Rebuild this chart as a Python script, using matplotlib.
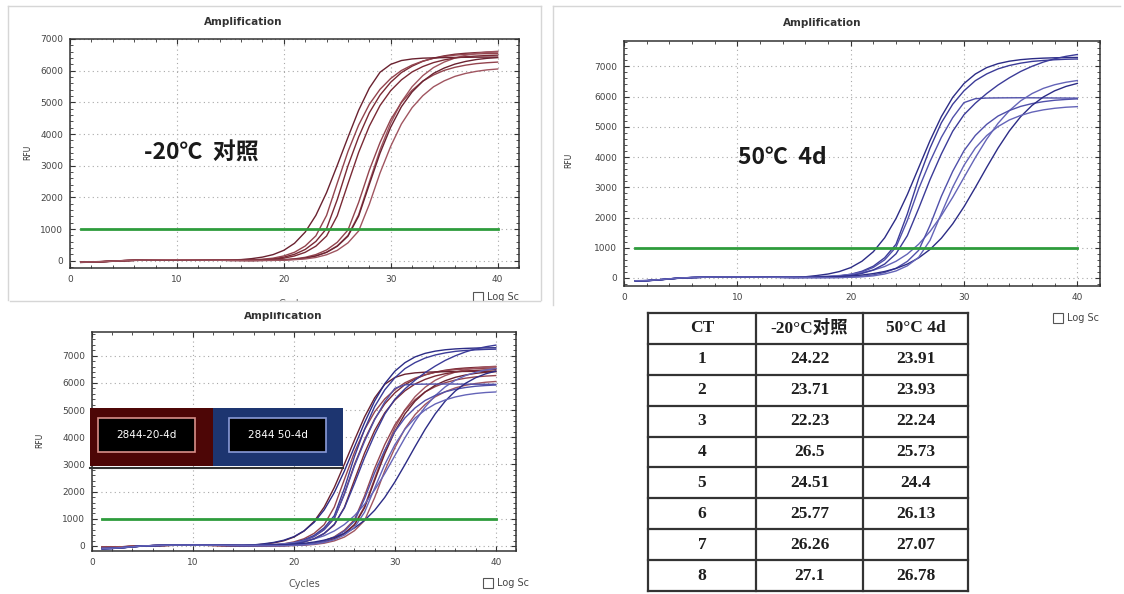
import numpy as np
import matplotlib
matplotlib.use("Agg")
import matplotlib.pyplot as plt
from matplotlib.patches import Rectangle
from matplotlib.lines import Line2D
from matplotlib.ticker import MultipleLocator

# ---- amplification data (RFU per cycle) ----
cycles = np.arange(1, 41)

cold_w1 = [-50, -42, -30, -14, 2, 12, 20, 26, 30, 28, 26, 22, 18, 14, 10, 15, 22, 36, 61, 112,
           203, 355, 609, 1015, 1929, 2995, 3909, 4671, 5229, 5635, 5940, 6143, 6295, 6397, 6468, 6519, 6549, 6570, 6585, 6593]
cold_w2 = [-40, -35, -25, -10, 5, 15, 22, 28, 30, 32, 28, 24, 20, 16, 12, 20, 29, 46, 81, 151,
           267, 464, 786, 1431, 2449, 3446, 4283, 4938, 5411, 5754, 6006, 6177, 6303, 6389, 6449, 6490, 6512, 6528, 6540, 6545]
cold_w3 = [-55, -45, -32, -18, -2, 10, 18, 24, 28, 30, 27, 24, 20, 18, 25, 35, 66, 114, 193, 328,
           550, 903, 1432, 2152, 3012, 3896, 4750, 5450, 5950, 6200, 6320, 6370, 6395, 6405, 6412, 6418, 6422, 6426, 6428, 6430]
cold_w4 = [-48, -40, -28, -12, 4, 14, 22, 27, 30, 30, 27, 23, 19, 15, 11, 8, 5, 11, 14, 28,
           47, 82, 153, 271, 471, 798, 1453, 2486, 3499, 4348, 5013, 5494, 5842, 6098, 6272, 6399, 6486, 6548, 6589, 6611]
cold_w5 = [-52, -44, -33, -16, 0, 11, 19, 25, 29, 29, 26, 22, 18, 14, 10, 13, 16, 27, 46, 80,
           150, 265, 460, 780, 1420, 2430, 3420, 4250, 4900, 5370, 5710, 5960, 6130, 6255, 6340, 6400, 6440, 6462, 6478, 6490]
cold_w6 = [-45, -38, -27, -12, 3, 13, 21, 27, 31, 31, 28, 24, 20, 16, 12, 8, 9, 12, 19, 34,
           58, 107, 194, 339, 582, 969, 1842, 2859, 3731, 4458, 4991, 5379, 5670, 5864, 6009, 6106, 6174, 6222, 6251, 6271]
cold_w7 = [-50, -43, -31, -15, 1, 12, 20, 26, 29, 30, 27, 23, 19, 15, 11, 8, 5, 11, 14, 27,
           46, 79, 149, 263, 456, 774, 1409, 2411, 3394, 4217, 4862, 5329, 5666, 5914, 6083, 6207, 6291, 6351, 6390, 6412]
cold_w8 = [-46, -39, -29, -13, 2, 12, 21, 26, 30, 29, 26, 22, 18, 14, 10, 7, 4, 7, 9, 19,
           33, 56, 103, 188, 328, 563, 939, 1783, 2769, 3613, 4317, 4833, 5209, 5490, 5678, 5819, 5913, 5978, 6025, 6053]

hot_w1 = [-95, -88, -62, -28, 2, 16, 24, 30, 33, 32, 30, 27, 24, 20, 16, 23, 30, 43, 67, 123,
          223, 390, 669, 1115, 2119, 3290, 4294, 5131, 5744, 6190, 6525, 6748, 6915, 7027, 7105, 7161, 7194, 7217, 7233, 7242]
hot_w2 = [-100, -90, -65, -32, -2, 14, 23, 29, 32, 33, 31, 28, 25, 21, 17, 23, 28, 39, 60, 110,
          200, 350, 600, 1020, 1900, 2950, 3850, 4650, 5300, 5800, 5930, 5950, 5955, 5958, 5960, 5958, 5955, 5952, 5950, 5948]
hot_w3 = [-105, -92, -68, -35, -4, 12, 22, 28, 31, 32, 30, 28, 26, 24, 28, 40, 80, 131, 212, 343,
          555, 869, 1329, 1964, 2759, 3650, 4541, 5336, 5971, 6431, 6745, 6957, 7088, 7169, 7220, 7251, 7270, 7282, 7289, 7293]
hot_w4 = [-92, -86, -60, -29, 1, 15, 24, 29, 32, 32, 30, 28, 27, 28, 30, 33, 47, 60, 80, 120,
          177, 259, 379, 552, 791, 1117, 1536, 2062, 2667, 3325, 3981, 4589, 5114, 5533, 5859, 6098, 6271, 6391, 6473, 6530]
hot_w5 = [-98, -90, -63, -31, 0, 14, 23, 29, 32, 33, 31, 27, 23, 19, 15, 20, 22, 31, 46, 80,
          150, 265, 460, 800, 1400, 2300, 3250, 4100, 4850, 5400, 5780, 6100, 6380, 6620, 6830, 7000, 7140, 7250, 7330, 7390]
hot_w6 = [-94, -87, -61, -30, 1, 15, 24, 30, 32, 32, 30, 27, 24, 20, 16, 12, 13, 13, 18, 32,
          55, 101, 183, 320, 549, 915, 1739, 2700, 3524, 4211, 4714, 5080, 5355, 5538, 5675, 5767, 5831, 5877, 5904, 5923]
hot_w7 = [-96, -88, -62, -30, 0, 14, 23, 29, 31, 32, 30, 27, 24, 22, 20, 20, 28, 34, 45, 66,
          98, 146, 215, 315, 460, 664, 944, 1315, 1788, 2356, 2994, 3656, 4294, 4862, 5335, 5706, 5986, 6190, 6335, 6435]
hot_w8 = [-90, -84, -59, -28, 2, 16, 25, 30, 33, 33, 31, 28, 24, 20, 16, 12, 8, 11, 12, 24,
          40, 70, 132, 232, 403, 684, 1245, 2131, 2999, 3727, 4297, 4709, 5007, 5226, 5375, 5485, 5560, 5612, 5647, 5667]

threshold_rfu = 1000
threshold_from, threshold_to = 1, 40

# CT table
ct_wells = ["1", "2", "3", "4", "5", "6", "7", "8"]
ct_cold = [24.22, 23.71, 22.23, 26.5, 24.51, 25.77, 26.26, 27.1]
ct_hot = [23.91, 23.93, 22.24, 25.73, 24.4, 26.13, 27.07, 26.78]
table_head = ["CT", "-20°C对照", "50°C 4d"]

label_cold = "-20℃  对照"
label_hot = "50℃  4d"
legend_cold = "2844-20-4d"
legend_hot = "2844 50-4d"

cold_wells = [cold_w1, cold_w2, cold_w3, cold_w4, cold_w5, cold_w6, cold_w7, cold_w8]
hot_wells = [hot_w1, hot_w2, hot_w3, hot_w4, hot_w5, hot_w6, hot_w7, hot_w8]

red_cols = ["#7a2a35", "#93444e", "#6a2230", "#a05560"]
blue_cols = ["#3b3b98", "#5050aa", "#2c2c86", "#6464b8"]
green = "#2e9c3c"

W, H = 1124, 594
fig = plt.figure(figsize=(W / 100, H / 100), dpi=100)
fig.patch.set_facecolor("white")
cjk = ["Noto Sans CJK SC", "DejaVu Sans"]


def box(x0, y0, x1, y1):
	return [x0 / W, 1 - y1 / H, (x1 - x0) / W, (y1 - y0) / H]


def fx(x):
	return x / W


def fy(y):
	return 1 - y / H


def amp_axes(x0, y0, x1, y1, ylim):
	ax = fig.add_axes(box(x0, y0, x1, y1))
	ax.set_xlim(0, 42)
	ax.set_ylim(*ylim)
	ax.xaxis.set_major_locator(MultipleLocator(10))
	ax.xaxis.set_minor_locator(MultipleLocator(2))
	ax.yaxis.set_major_locator(MultipleLocator(1000))
	ax.yaxis.set_minor_locator(MultipleLocator(200))
	ax.tick_params(which="both", direction="in", top=True, right=True,
				   labelsize=6.5, labelcolor="#444", color="#333")
	ax.tick_params(which="major", length=3.5, width=0.8, pad=5)
	ax.tick_params(which="minor", length=2, width=0.6)
	ax.grid(True, which="major", color="#a8a8a8", linestyle=(0, (1, 3)), linewidth=0.8)
	for s in ax.spines.values():
		s.set_color("#333")
		s.set_linewidth(1.1)
	return ax


def draw_wells(ax, wells, cols):
	for i, w in enumerate(wells):
		ax.plot(cycles, w, color=cols[i % len(cols)], lw=1.0, zorder=2)


def draw_threshold(ax):
	ax.plot([threshold_from, threshold_to], [threshold_rfu, threshold_rfu],
			color=green, lw=2, zorder=3)


def fig_text(x, y, s, **kw):
	fig.text(fx(x), fy(y), s, ha=kw.pop("ha", "center"), va=kw.pop("va", "center"), **kw)


def checkbox(x, y):
	fig.add_artist(Rectangle((fx(x), fy(y + 10)), 10 / W, 10 / H, transform=fig.transFigure,
							 facecolor="white", edgecolor="#555", lw=0.8))
	fig_text(x + 14, y + 5, "Log Sc", ha="left", fontsize=7, color="#444")


def fline(x0, y0, x1, y1, col="#d6d6d6", lw=1.0, z=1):
	fig.add_artist(Line2D([fx(x0), fx(x1)], [fy(y0), fy(y1)], transform=fig.transFigure,
						  color=col, lw=lw, zorder=z))


# screenshot frames
fline(8, 6, 541, 6)
fline(8, 6, 8, 300)
fline(541, 6, 541, 300)
fline(553, 6, 1120, 6)
fline(553, 6, 553, 305)

# ---- panel 1: -20C control ----
ax1 = amp_axes(70, 39, 519, 268, (-230, 7000))
draw_wells(ax1, cold_wells, red_cols)
draw_threshold(ax1)
fig_text(243, 22, "Amplification", fontsize=7.5, fontweight="bold", color="#333")
fig_text(28, 152, "RFU", fontsize=5.5, rotation=90, color="#333")
fig_text(201, 153, label_cold, fontsize=16.5, fontweight="bold", family=cjk, color="#1a1a1a")
fig_text(294, 304, "Cycles", fontsize=7, color="#555")
checkbox(473, 292)
# panel 3 frame cuts off the lower half of panel 1
fig.add_artist(Rectangle((fx(10), fy(312)), 531 / W, 11 / H, transform=fig.transFigure,
						 facecolor="white", edgecolor="none", zorder=4))
fline(10, 301, 540, 301, z=5)

# ---- panel 2: 50C 4 days ----
ax2 = amp_axes(624, 41, 1100, 286, (-265, 7837))
draw_wells(ax2, hot_wells, blue_cols)
draw_threshold(ax2)
fig_text(822, 23, "Amplification", fontsize=7.5, fontweight="bold", color="#333")
fig_text(569, 160, "RFU", fontsize=5.5, rotation=90, color="#333")
fig_text(782, 157, label_hot, fontsize=16.5, fontweight="bold", family=cjk, color="#1a1a1a")
checkbox(1053, 313)

# ---- panel 3: overlay ----
ax3 = amp_axes(92, 332, 516, 551, (-184, 7873))
draw_wells(ax3, cold_wells, red_cols)
draw_wells(ax3, hot_wells, blue_cols)
draw_threshold(ax3)
fig_text(283, 316, "Amplification", fontsize=7.5, fontweight="bold", color="#333")
fig_text(40, 440, "RFU", fontsize=5.5, rotation=90, color="#333")
fig_text(304, 584, "Cycles", fontsize=7, color="#555")
checkbox(483, 578)

# well-group legend overlay
for (x0, x1, bg, edge, txt, cx0, cx1) in [(90, 213, "#4d0606", "#d9908a", legend_cold, 98, 195),
										  (213, 343, "#1d3570", "#8a9ad8", legend_hot, 229, 326)]:
	fig.add_artist(Rectangle((fx(x0), fy(466)), (x1 - x0) / W, 58 / H, transform=fig.transFigure,
							 facecolor=bg, edgecolor="none", zorder=6))
	fig.add_artist(Rectangle((fx(cx0), fy(452)), (cx1 - cx0) / W, 34 / H, transform=fig.transFigure,
							 facecolor="black", edgecolor=edge, lw=1.2, zorder=7))
	fig.text(fx((cx0 + cx1) / 2), fy(435), txt, ha="center", va="center", fontsize=7.5,
			 color="white", zorder=8)
fline(90, 468, 343, 468, col="#333", lw=1.5, z=6)

# ---- CT table ----
axt = fig.add_axes(box(648, 313, 968, 591))
axt.set_xlim(0, 320)
axt.set_ylim(278, 0)
axt.axis("off")
col_edges = [0, 108, 215, 320]
n_rows = len(ct_wells) + 1
row_h = 278 / n_rows
for xe in col_edges:
	axt.plot([xe, xe], [0, 278], color="#333", lw=1.6, clip_on=False)
for r in range(n_rows + 1):
	axt.plot([0, 320], [r * row_h, r * row_h], color="#333", lw=1.6, clip_on=False)
serif = ["Liberation Serif", "Noto Sans CJK SC"]
rows = [table_head] + [[w, str(a), str(b)] for w, a, b in zip(ct_wells, ct_cold, ct_hot)]
for r, row in enumerate(rows):
	for c, cell in enumerate(row):
		axt.text((col_edges[c] + col_edges[c + 1]) / 2, (r + 0.5) * row_h, cell,
				 ha="center", va="center", fontsize=12.5, fontweight="bold",
				 family=serif, color="#1e1e1e")

fig.savefig("out.png", dpi=100)
